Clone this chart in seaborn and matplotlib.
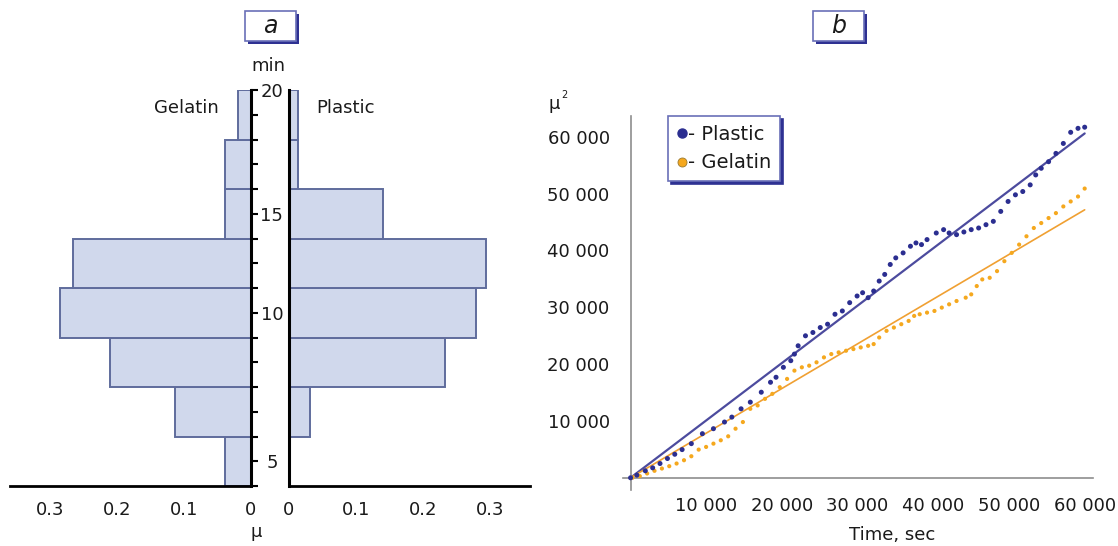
import matplotlib
matplotlib.use("Agg")
import matplotlib.pyplot as plt
import matplotlib.ticker as mticker
from matplotlib.patches import Rectangle
from matplotlib.lines import Line2D
import seaborn as sns
import pandas as pd

# ---- panel a: fraction of cells per time bin (bins listed bottom -> top) ----
bin_pos = [1, 3, 5, 7, 9, 11, 13, 15]          # bin centres on the "min" axis (tick units)
gelatin_frac = [0.039, 0.114, 0.21, 0.285, 0.266, 0.039, 0.039, 0.019]
plastic_frac = [0.0, 0.031, 0.233, 0.279, 0.294, 0.14, 0.014, 0.014]
min_tick_pos = [1, 7, 11, 16]
min_tick_labels = ["5", "10", "15", "20"]
mu_ticks = [0, 0.1, 0.2, 0.3]
mu_tick_labels = ["0", "0.1", "0.2", "0.3"]

# ---- panel b: mean squared displacement vs time ----
plastic_t = [0, 830, 1950, 2920, 3890, 4870, 5840, 6810, 8030, 9490,
             10950, 12410, 13380, 14600, 15820, 17270, 18490, 19220, 20190, 21170,
             21650, 22140, 23110, 24090, 25060, 26030, 27010, 27980, 28950, 29930,
             30660, 31390, 32120, 32850, 33580, 34310, 35040, 36010, 36980, 37710,
             38440, 39170, 40390, 41360, 42090, 43070, 44040, 45010, 45990, 46960,
             47930, 48910, 49880, 50850, 51820, 52800, 53530, 54260, 55230, 56200,
             57180, 58150, 59120, 60000]
plastic_msd = [0, 470, 1230, 1750, 2510, 3390, 4140, 4960, 6010, 7760,
               8640, 9810, 10680, 12140, 13310, 15060, 16810, 17690, 19440, 20610,
               21770, 23230, 24990, 25570, 26440, 27030, 28780, 29360, 30820, 31990,
               32570, 31700, 32870, 34620, 35790, 37540, 38700, 39580, 40750, 41330,
               41040, 41920, 43080, 43670, 43080, 42790, 43260, 43670, 43960, 44540,
               45130, 46880, 48630, 49800, 50380, 51550, 53300, 54470, 55630, 57090,
               58840, 60800, 61500, 61700]
gelatin_t = [240, 1220, 2190, 3160, 4140, 5110, 6080, 7060, 8030, 9000,
             9980, 10950, 11920, 12900, 13870, 14840, 15820, 16790, 17760, 18730,
             19710, 20680, 21650, 22630, 23600, 24570, 25550, 26520, 27490, 28470,
             29440, 30410, 31390, 32120, 32850, 33820, 34790, 35770, 36740, 37470,
             38200, 39170, 40150, 41120, 42090, 43070, 44280, 45010, 45740, 46470,
             47450, 48420, 49390, 50360, 51340, 52310, 53280, 54260, 55230, 56200,
             57180, 58150, 59120, 60000]
gelatin_msd = [0, 290, 760, 1230, 1630, 2040, 2510, 3090, 3790, 4960,
               5430, 6010, 6600, 7300, 8640, 9810, 12140, 12730, 13890, 14770,
               15940, 17400, 18860, 19440, 19730, 20320, 21190, 21770, 22070, 22360,
               22650, 22940, 23230, 23530, 24690, 25860, 26440, 27030, 27610, 28490,
               28780, 29070, 29360, 29950, 30530, 31110, 31700, 32280, 33740, 34910,
               35200, 36370, 38120, 39580, 41040, 42500, 43960, 44830, 45710, 46580,
               47750, 48630, 49500, 50900]
plastic_slope = 1.01
gelatin_slope = 0.786

W, H = 1118, 546
BAR_FILL = "#d0d8ec"
BAR_EDGE = "#5f6c9c"
PLASTIC_C = "#2b2e90"
PLASTIC_LINE = "#4c4b9e"
GELATIN_C = "#f5a81e"
GELATIN_LINE = "#f0a032"
TXT = "#1a1a1a"
BOX_EDGE = "#6a70b8"
SHADOW = "#2e3192"

sns.set_style("white")
plt.rcParams["font.family"] = ["DejaVu Sans"]


def fx(px):
    return px / W


def fy(py):
    return 1 - py / H


fig = plt.figure(figsize=(W / 100, H / 100), dpi=100)

# ================= panel a =================
df_a = pd.DataFrame({"pos": bin_pos, "gelatin": gelatin_frac, "plastic": plastic_frac})

ax_g = fig.add_axes([fx(10), fy(486), fx(251) - fx(10), fy(90) - fy(486)])
ax_p = fig.add_axes([fx(289), fy(486), fx(530) - fx(289), fy(90) - fy(486)])

for ax, col in [(ax_g, "gelatin"), (ax_p, "plastic")]:
    sns.barplot(data=df_a, x=col, y="pos", orient="y", native_scale=True, width=1,
                color=BAR_FILL, saturation=1, edgecolor=BAR_EDGE, linewidth=1.4, ax=ax)
    ax.set_facecolor("none")
    ax.set_ylim(0, 16)
    ax.set_xlabel("")
    ax.set_ylabel("")
    ax.set_xticks(mu_ticks)
    ax.set_xticklabels(mu_tick_labels)
    ax.xaxis.set_minor_locator(mticker.MultipleLocator(0.02))
    ax.tick_params(axis="x", which="major", direction="out", length=7, width=1.3,
                   color="black", labelsize=13, labelcolor=TXT, pad=4)
    ax.tick_params(axis="x", which="minor", direction="out", length=4, width=1.1, color="black")
    ax.spines["top"].set_visible(False)
    ax.spines["bottom"].set_linewidth(2)
    ax.spines["bottom"].set_color("black")

ax_g.set_xlim(0.36, 0)
ax_p.set_xlim(0, 0.36)

# gelatin side: axis on the right with the min labels in the gap
ax_g.spines["left"].set_visible(False)
ax_g.spines["right"].set_visible(True)
ax_g.spines["right"].set_linewidth(2.2)
ax_g.spines["right"].set_color("black")
ax_g.yaxis.tick_right()
ax_g.set_yticks(min_tick_pos)
ax_g.set_yticklabels(min_tick_labels)
ax_g.set_yticks(range(0, 17), minor=True)
ax_g.tick_params(axis="y", which="both", direction="out", length=5, width=1.5,
                 color="black", labelsize=13, labelcolor=TXT, pad=10)
for lab in ax_g.get_yticklabels():
    lab.set_horizontalalignment("center")

# plastic side: axis on the left, ticks only
ax_p.spines["right"].set_visible(False)
ax_p.spines["left"].set_linewidth(2.2)
ax_p.spines["left"].set_color("black")
ax_p.set_yticks(min_tick_pos)
ax_p.set_yticklabels([])
ax_p.tick_params(axis="y", which="major", direction="out", length=7, width=1.5, color="black")
ax_p.tick_params(axis="y", which="minor", left=False)

fig.text(fx(268), fy(66), "min", fontsize=13, color=TXT, ha="center", va="center")
fig.text(fx(186), fy(108), "Gelatin", fontsize=13, color=TXT, ha="center", va="center")
fig.text(fx(345), fy(108), "Plastic", fontsize=13, color=TXT, ha="center", va="center")
fig.text(fx(256), fy(532), "μ", fontsize=13, color=TXT, ha="center", va="center")

# ================= panel b =================
x_lo, x_hi = -1000, 61100
y_lo, y_hi = -2150, 63670
ax_b = fig.add_axes([fx(623), fy(490), fx(1093) - fx(623), fy(116) - fy(490)])
ax_b.set_facecolor("none")

t_end = max(plastic_t)
ax_b.plot([0, t_end], [0, plastic_slope * t_end], color=PLASTIC_LINE, lw=1.6, zorder=2)
ax_b.plot([0, t_end], [0, gelatin_slope * t_end], color=GELATIN_LINE, lw=1.2, zorder=2)

sns.scatterplot(x=gelatin_t, y=gelatin_msd, color=GELATIN_C, s=9, edgecolor="none",
                ax=ax_b, zorder=3)
sns.scatterplot(x=plastic_t, y=plastic_msd, color=PLASTIC_C, s=13, edgecolor="none",
                ax=ax_b, zorder=4)

ax_b.set_xlim(x_lo, x_hi)
ax_b.set_ylim(y_lo, y_hi)
ax_b.spines["left"].set_position(("data", 0))
ax_b.spines["bottom"].set_position(("data", 0))
ax_b.spines["top"].set_visible(False)
ax_b.spines["right"].set_visible(False)
for s in ["left", "bottom"]:
    ax_b.spines[s].set_color("#8e8e8e")
    ax_b.spines[s].set_linewidth(1.2)

fmt = mticker.FuncFormatter(lambda v, p: "" if v == 0 else f"{int(v):,}".replace(",", " "))
ax_b.xaxis.set_major_locator(mticker.MultipleLocator(10000))
ax_b.yaxis.set_major_locator(mticker.MultipleLocator(10000))
ax_b.xaxis.set_minor_locator(mticker.MultipleLocator(2000))
ax_b.yaxis.set_minor_locator(mticker.MultipleLocator(2000))
ax_b.xaxis.set_major_formatter(fmt)
ax_b.yaxis.set_major_formatter(fmt)
ax_b.tick_params(axis="both", which="major", direction="in", length=6, width=1,
                 color="#8e8e8e", labelsize=13, labelcolor=TXT)
ax_b.tick_params(axis="both", which="minor", direction="in", length=3.5, width=0.9,
                 color="#8e8e8e")
ax_b.tick_params(axis="x", which="major", pad=14)
ax_b.tick_params(axis="y", which="major", pad=15)
ax_b.set_xlabel("")
ax_b.set_ylabel("")

handles = [
    Line2D([], [], ls="none", marker="o", ms=6.5, mfc=PLASTIC_C, mec=PLASTIC_C),
    Line2D([], [], ls="none", marker="o", ms=6.5, mfc=GELATIN_C, mec="#9a7a30", mew=0.6),
]
leg = ax_b.legend(handles=handles, labels=["- Plastic", "- Gelatin"], loc="upper left",
                  bbox_to_anchor=(fx(668), fy(116)), bbox_transform=fig.transFigure,
                  borderaxespad=0, frameon=True, fancybox=False, framealpha=1,
                  edgecolor=BOX_EDGE, handlelength=0.55, handletextpad=0.05,
                  borderpad=0.45, labelspacing=0.5, fontsize=14,
                  shadow={"color": SHADOW, "alpha": 1})
leg.get_frame().set_linewidth(1.2)
for t in leg.get_texts():
    t.set_color(TXT)

fig.text(fx(548), fy(104), "μ", fontsize=13, color=TXT, ha="left", va="center")
fig.text(fx(561), fy(95), "2", fontsize=7, color=TXT, ha="left", va="center")
fig.text(fx(892), fy(535), "Time, sec", fontsize=13, color=TXT, ha="center", va="center")

# ================= panel letters =================
for cx, letter in [(270.5, "a"), (838.5, "b")]:
    x0, x1, y0, y1 = cx - 25.5, cx + 25.5, 11, 41
    fig.add_artist(Rectangle((fx(x0 + 3), fy(y1 + 3)), fx(x1) - fx(x0), fy(y0) - fy(y1),
                             transform=fig.transFigure, facecolor=SHADOW, edgecolor="none"))
    fig.add_artist(Rectangle((fx(x0), fy(y1)), fx(x1) - fx(x0), fy(y0) - fy(y1),
                             transform=fig.transFigure, facecolor="white",
                             edgecolor=BOX_EDGE, linewidth=1.2))
    fig.text(fx(cx), fy(26), letter, fontsize=17, style="italic", color=TXT,
             ha="center", va="center")

fig.savefig("out.png", dpi=100)
